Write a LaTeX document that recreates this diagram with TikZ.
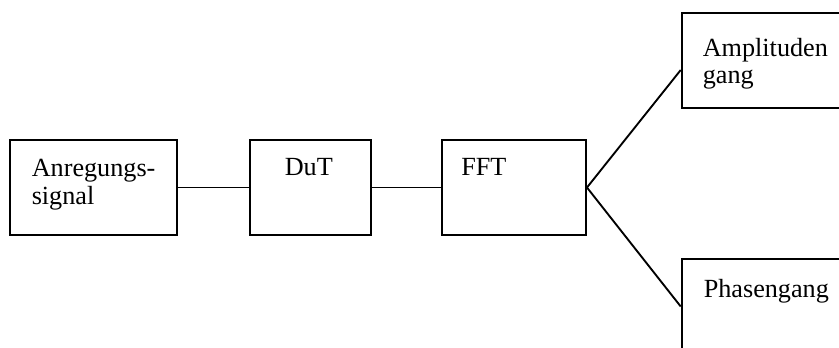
\documentclass[tikz,border=0pt]{standalone}
\usepackage{fontspec}
\setmainfont{Liberation Serif}
\usetikzlibrary{calc}
\begin{document}
\begin{tikzpicture}[x=0.75pt,y=-0.75pt,
  block/.style={draw=black,line width=1.5pt,fill=white,inner sep=0pt},
  wire/.style={draw=black,line width=1.4pt},
  txt/.style={anchor=base west,inner sep=0pt,font=\fontsize{19.65}{21}\selectfont}]
  \clip (0,0) rectangle (839,347);
  \fill[white] (0,0) rectangle (839,347);
  % blocks of the measurement chain
  \node[block,minimum width=125.25pt,minimum height=71.25pt] (sig) at (93.5,187.5) {};
  \node[block,minimum width=90.4pt,minimum height=71.25pt] (dut) at (310.25,187.5) {};
  \node[block,minimum width=108.2pt,minimum height=71.25pt] (fft) at (513.85,187.5) {};
  \node[block,minimum width=133.7pt,minimum height=71.25pt] (amp) at (770.85,60.8) {};
  \node[block,minimum width=133.7pt,minimum height=71.25pt] (phase) at (770.85,306.5) {};
  % connections
  \draw[wire] (sig.east) -- (dut.west);
  \draw[wire] (dut.east) -- (fft.west);
  \coordinate (ampin) at ($(amp.west)+(0,9.2)$);
  \draw[wire] (fft.east) -- (ampin);
  \draw[wire] (fft.east) -- (phase.west);
  % labels
  \node[txt] (sig1) at (31.5,176) {Anregungs-};
  \node[txt] (sig2) at (31.5,204.5) {signal};
  \node[txt] (dutl) at (284.5,175) {DuT};
  \node[txt] (fftl) at (461,175) {FFT};
  \node[txt] (amp1) at (702.5,56) {Amplituden};
  \node[txt] (amp2) at (702.5,83) {gang};
  \node[txt] (phasel) at (703.5,297) {Phasengang};
\end{tikzpicture}
\end{document}
